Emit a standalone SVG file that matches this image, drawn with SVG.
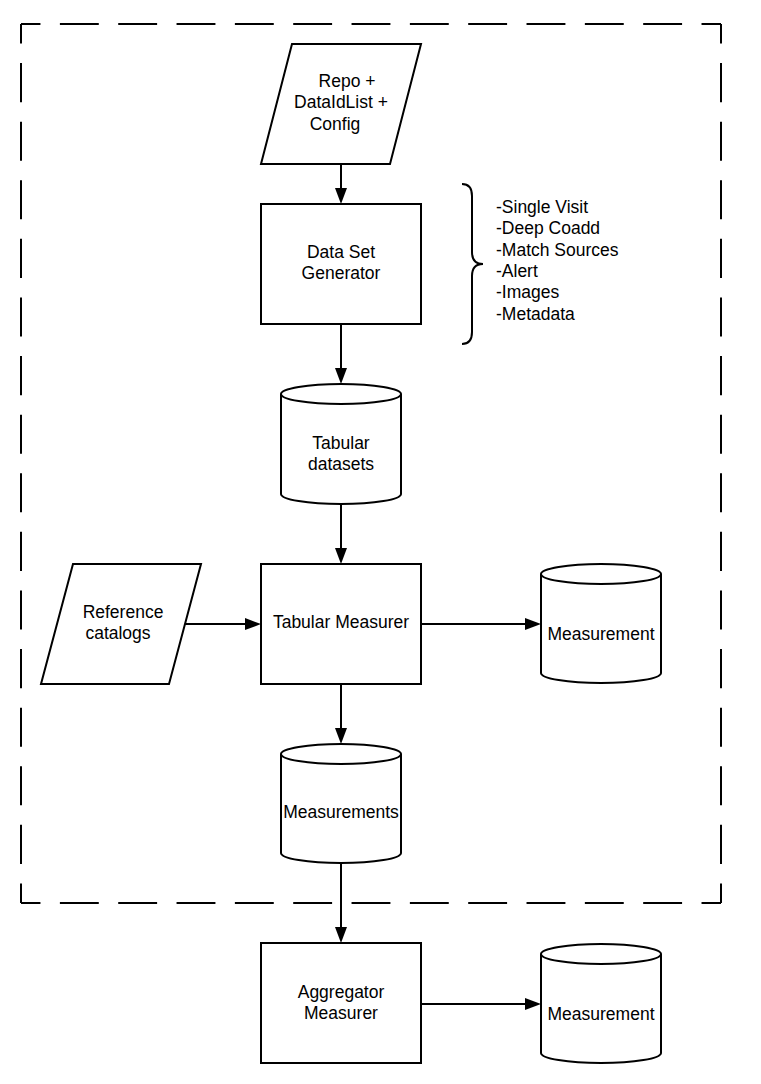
<svg xmlns="http://www.w3.org/2000/svg" width="761" height="1084" viewBox="0 0 761 1084">
<style>
.s{fill:#fff;stroke:#000;stroke-width:2}
.f{fill:none;stroke:#000;stroke-width:2}
.t{font-family:"Liberation Sans",Arial,sans-serif;font-size:17.5px;fill:#000;text-anchor:middle}
.l{font-family:"Liberation Sans",Arial,sans-serif;font-size:17.5px;fill:#000}
.h{fill:none;stroke:#000;stroke-width:2;stroke-dasharray:38.89 19.44;stroke-dashoffset:19.44}
.v{fill:none;stroke:#000;stroke-width:2;stroke-dasharray:39.07 19.53;stroke-dashoffset:19.53}
.c{fill:none;stroke:#000;stroke-width:2;marker-end:url(#ah)}
</style>
<defs>
<marker id="ah" markerUnits="userSpaceOnUse" markerWidth="16" markerHeight="12" refX="10" refY="6" orient="auto">
<path d="M0,0 L16,6 L0,12 Z" fill="#000"/>
</marker>
</defs>
<rect width="761" height="1084" fill="#fff"/>
<g id="frame">
<line class="h" x1="21" y1="24" x2="721" y2="24"/>
<line class="h" x1="21" y1="903" x2="721" y2="903"/>
<line class="v" x1="21" y1="24" x2="21" y2="903"/>
<line class="v" x1="721" y1="24" x2="721" y2="903"/>
</g>
<g id="connectors">
<line class="c" x1="341" y1="164" x2="341" y2="198"/>
<line class="c" x1="341" y1="324" x2="341" y2="378"/>
<line class="c" x1="341" y1="504" x2="341" y2="558"/>
<line class="c" x1="185" y1="624" x2="255" y2="624"/>
<line class="c" x1="421" y1="624" x2="535" y2="624"/>
<line class="c" x1="341" y1="684" x2="341" y2="738"/>
<line class="c" x1="341" y1="863" x2="341" y2="937"/>
<line class="c" x1="421" y1="1004" x2="535" y2="1004"/>
</g>
<g id="input">
<polygon class="s" points="292,44 421,44 390,164 261,164"/>
<text class="t" x="347" y="87">Repo +</text>
<text class="t" x="341" y="108">DataIdList +</text>
<text class="t" x="335" y="130">Config</text>
</g>
<g id="generator">
<rect class="s" x="261" y="204" width="160" height="120"/>
<text class="t" x="341" y="258">Data Set</text>
<text class="t" x="341" y="279">Generator</text>
</g>
<g id="brace">
<path class="f" d="M462,184 Q472,184 472,196 L472,252 Q472,264 483,264 Q472,264 472,276 L472,332 Q472,344 462,344"/>
<text class="l" x="496" y="213">-Single Visit</text>
<text class="l" x="496" y="234">-Deep Coadd</text>
<text class="l" x="496" y="256">-Match Sources</text>
<text class="l" x="496" y="277">-Alert</text>
<text class="l" x="496" y="298">-Images</text>
<text class="l" x="496" y="320">-Metadata</text>
</g>
<g id="tabular-datasets">
<path class="s" d="M281,394 A60,10 0 0 1 401,394 L401,494 A60,10 0 0 1 281,494 Z"/>
<path class="f" d="M281,394 A60,10 0 0 0 401,394"/>
<text class="t" x="341" y="449">Tabular</text>
<text class="t" x="341" y="470">datasets</text>
</g>
<g id="reference-catalogs">
<polygon class="s" points="73,564 201,564 169,684 41,684"/>
<text class="t" x="123" y="618">Reference</text>
<text class="t" x="118" y="639">catalogs</text>
</g>
<g id="tabular-measurer">
<rect class="s" x="261" y="564" width="160" height="120"/>
<text class="t" x="341" y="628">Tabular Measurer</text>
</g>
<g id="measurement-1">
<path class="s" d="M541,574 A60,10 0 0 1 661,574 L661,673 A60,10 0 0 1 541,673 Z"/>
<path class="f" d="M541,574 A60,10 0 0 0 661,574"/>
<text class="t" x="601" y="640">Measurement</text>
</g>
<g id="measurements">
<path class="s" d="M281,754 A60,10 0 0 1 401,754 L401,853 A60,10 0 0 1 281,853 Z"/>
<path class="f" d="M281,754 A60,10 0 0 0 401,754"/>
<text class="t" x="341" y="818">Measurements</text>
</g>
<g id="aggregator">
<rect class="s" x="261" y="943" width="160" height="120"/>
<text class="t" x="341" y="998">Aggregator</text>
<text class="t" x="341" y="1019">Measurer</text>
</g>
<g id="measurement-2">
<path class="s" d="M541,954 A60,10 0 0 1 661,954 L661,1053 A60,10 0 0 1 541,1053 Z"/>
<path class="f" d="M541,954 A60,10 0 0 0 661,954"/>
<text class="t" x="601" y="1020">Measurement</text>
</g>
</svg>
